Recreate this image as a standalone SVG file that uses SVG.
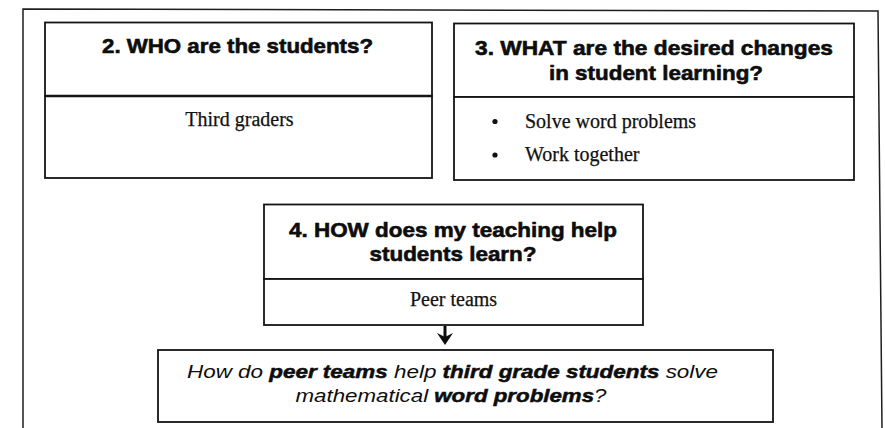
<svg xmlns="http://www.w3.org/2000/svg" width="885" height="428" viewBox="0 0 885 428">
  <style>
    .box { fill: #ffffff; stroke: #141414; stroke-width: 1.8; }
    .frame { fill: none; stroke: #1e1e1e; stroke-width: 1.5; }
    .head { font-family: "Liberation Sans", Arial, sans-serif; font-weight: bold; font-size: 21px; fill: #0d0d0d; stroke: #0d0d0d; stroke-width: 0.6; text-anchor: middle; }
    .body { font-family: "Liberation Serif", "Times New Roman", serif; font-size: 20px; fill: #111111; stroke: #111111; stroke-width: 0.25; }
    .q { font-family: "Liberation Sans", Arial, sans-serif; font-style: italic; font-size: 18.5px; fill: #0d0d0d; text-anchor: middle; }
    .q .b { font-weight: bold; stroke: #0d0d0d; stroke-width: 0.5; }
    .conn { fill: none; stroke: #0d0d0d; stroke-width: 3; }
  </style>
  <defs>
    <marker id="arrowhead" markerUnits="userSpaceOnUse" viewBox="0 0 12 16" markerWidth="12" markerHeight="16" refX="4" refY="8" orient="auto">
      <path d="M0,0 L12,8 L0,16 L4,8 Z" fill="#0d0d0d"/>
    </marker>
  </defs>

  <rect width="885" height="428" fill="#ffffff"/>

  <!-- outer frame (open at the bottom) -->
  <path class="frame" d="M23,428 L23,9 L878,11 L882,428"/>

  <!-- 2. WHO -->
  <g id="who">
    <rect class="box" x="45" y="22.5" width="387" height="73.5"/>
    <rect class="box" x="45" y="96" width="387" height="82"/>
    <line x1="45" y1="96" x2="432" y2="96" stroke="#141414" stroke-width="2.4"/>
    <text class="head" x="237.5" y="53" textLength="271" lengthAdjust="spacingAndGlyphs">2. WHO are the students?</text>
    <text class="body" x="239.5" y="126" text-anchor="middle">Third graders</text>
  </g>

  <!-- 3. WHAT -->
  <g id="what">
    <rect class="box" x="454" y="23.5" width="400" height="73.5"/>
    <rect class="box" x="454" y="97" width="400" height="83"/>
    <text class="head" x="654" y="55" textLength="358" lengthAdjust="spacingAndGlyphs">3. WHAT are the desired changes</text>
    <text class="head" x="656" y="80" textLength="214" lengthAdjust="spacingAndGlyphs">in student learning?</text>
    <circle cx="495" cy="121.5" r="2.6" fill="#111111"/>
    <text class="body" x="525" y="128">Solve word problems</text>
    <circle cx="495" cy="155" r="2.6" fill="#111111"/>
    <text class="body" x="525" y="161">Work together</text>
  </g>

  <!-- 4. HOW -->
  <g id="how">
    <rect class="box" x="264" y="204.5" width="379" height="74.5"/>
    <rect class="box" x="264" y="279" width="379" height="46"/>
    <text class="head" x="453" y="236.5" textLength="328" lengthAdjust="spacingAndGlyphs">4. HOW does my teaching help</text>
    <text class="head" x="453" y="260.5" textLength="167" lengthAdjust="spacingAndGlyphs">students learn?</text>
    <text class="body" x="453.5" y="306" text-anchor="middle">Peer teams</text>
  </g>

  <!-- research question -->
  <g id="question">
    <rect class="box" x="158" y="350" width="615" height="72"/>
    <text class="q" x="452.5" y="377.5" textLength="531" lengthAdjust="spacingAndGlyphs">How do <tspan class="b">peer teams</tspan> help <tspan class="b">third grade students</tspan> solve</text>
    <text class="q" x="451" y="401.5" textLength="311" lengthAdjust="spacingAndGlyphs">mathematical <tspan class="b">word problems</tspan>?</text>
  </g>

  <!-- connectors -->
  <g id="connectors">
    <path class="conn" d="M445,326 L445,337" marker-end="url(#arrowhead)"/>
  </g>
</svg>
